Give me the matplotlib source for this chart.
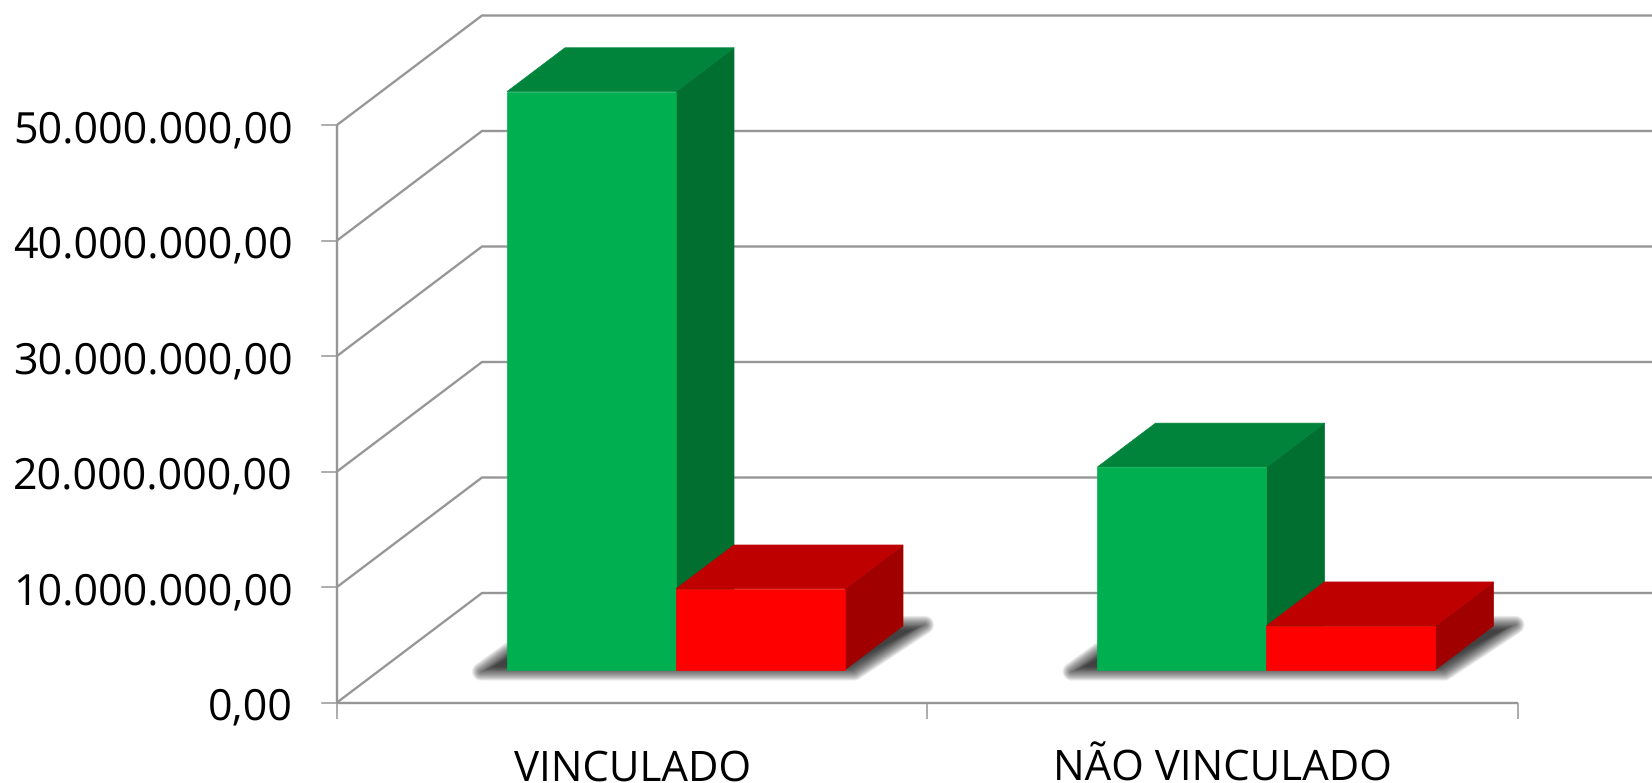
import numpy as np
import matplotlib
matplotlib.use("Agg")
import matplotlib.pyplot as plt
from matplotlib.patches import Polygon

categories = ["VINCULADO", "NÃO VINCULADO"]
green_values = [50.05e6, 17.55e6]
red_values = [7.0e6, 3.8e6]
y_ticks = [0, 10e6, 20e6, 30e6, 40e6, 50e6]
y_tick_labels = ["0,00", "10.000.000,00", "20.000.000,00", "30.000.000,00", "40.000.000,00", "50.000.000,00"]

W, H = 1652, 783
PX_X = 590.5           # pixels per category
PX_Y = 115.5 / 10e6    # pixels per value unit
X0, Y0 = 337, 702.5    # pixel position of the chart origin
DEPTH_PX = (145, 109.5)  # wall depth in pixels
BAR_W = 169 / PX_X
BAR_OFF = 126.5 / PX_X
D_FRONT, D_BACK = 0.30, 0.70
GREY = "#969696"

plt.rcParams["font.family"] = ["Open Sans", "Noto Sans", "DejaVu Sans"]
plt.rcParams["text.hinting"] = "no_hinting"
plt.rcParams["text.hinting_factor"] = 1
fig = plt.figure(figsize=(W / 100, H / 100), dpi=100)
ax = fig.add_axes([0, 0, 1, 1])
ax.set_xlim(-X0 / PX_X, (W - X0) / PX_X)
ax.set_ylim(-(H - Y0) / PX_Y, Y0 / PX_Y)
ax.axis("off")
DX = DEPTH_PX[0] / PX_X
DY = DEPTH_PX[1] / PX_Y


def P(x, v, d=0.0, ox=0.0, oy=0.0):
    """Project category x, value v, depth d (with a pixel offset) to data."""
    return (x + d * DX + ox / PX_X, v + d * DY + oy / PX_Y)


def face(points, color, z):
    ax.add_patch(Polygon(points, closed=True, facecolor=color, edgecolor=color,
                         lw=0.5, zorder=z, joinstyle="miter"))


def offset_round(corners, e):
    """Grow a convex counter-clockwise outline by e pixels, rounding its corners."""
    c = np.array([(x * PX_X, y * PX_Y) for x, y in corners])
    n = len(c)
    out = []
    for j in range(n):
        prev_edge = c[j] - c[j - 1]
        next_edge = c[(j + 1) % n] - c[j]
        a0 = np.arctan2(prev_edge[1], prev_edge[0]) - np.pi / 2
        a1 = np.arctan2(next_edge[1], next_edge[0]) - np.pi / 2
        if a1 < a0:
            a1 += 2 * np.pi
        for a in np.linspace(a0, a1, 8):
            out.append(c[j] + e * np.array([np.cos(a), np.sin(a)]))
    out = np.array(out)
    return np.column_stack([out[:, 0] / PX_X, out[:, 1] / PX_Y])


# walls, grid and axes
xr = ax.get_xlim()[1]
for v, lab in zip(y_ticks, y_tick_labels):
    a, b = P(0, v), P(0, v, 1)
    ax.plot([a[0], b[0], xr], [a[1], b[1], b[1]], color=GREY, lw=1.7, zorder=1,
            solid_joinstyle="miter", solid_capstyle="butt")
    t = P(0, v, 0, -15)
    ax.plot([t[0], a[0]], [a[1], a[1]], color=GREY, lw=1.1, zorder=1)
    ax.text(*P(0, v, 0, -44, -17), lab, ha="right", va="baseline",
            fontsize=30.9, color="black")
ax.plot([0, 0], [0, y_ticks[-1]], color=GREY, lw=1.7, zorder=1, solid_capstyle="butt")
ax.plot([0, len(categories)], [0, 0], color=GREY, lw=1.7, zorder=1, solid_capstyle="butt")
for i in range(len(categories) + 1):
    ax.plot([i, i], [0, -16 / PX_Y], color=GREY, lw=1.1, zorder=1, solid_capstyle="butt")
for i, c in enumerate(categories):
    ax.text(i + 0.5, -78 / PX_Y, c, ha="center", va="baseline", fontsize=30, color="black")

# soft floor shadows
layers = 19
for i in range(len(categories)):
    xl = i + BAR_OFF
    xr2 = xl + 2 * BAR_W
    core = [P(xl, 0, D_FRONT, -26, -2),
            P(xr2, 0, D_FRONT, 9, -2),
            P(xr2, 0, D_BACK, 22, 1),
            P(xl, 0, D_BACK, -19, 1)]
    for k in range(layers):
        e = 9 - k
        if e >= 0:
            pts = offset_round(core, e)
        else:
            cx = sum(p[0] for p in core) / 4
            cy = sum(p[1] for p in core) / 4
            pts = [(cx + (p[0] - cx) * (1 + e / 150), cy + (p[1] - cy) * (1 + e / 40)) for p in core]
        ax.add_patch(Polygon(pts, closed=True, facecolor="#222222", edgecolor="none",
                             alpha=0.09, zorder=2))


def bar(x, value, front, top, side, z):
    x2 = x + BAR_W
    face([P(x2, 0, D_FRONT), P(x2, 0, D_BACK), P(x2, value, D_BACK), P(x2, value, D_FRONT)], side, z)
    face([P(x, value, D_FRONT), P(x2, value, D_FRONT), P(x2, value, D_BACK), P(x, value, D_BACK)], top, z)
    face([P(x, 0, D_FRONT), P(x2, 0, D_FRONT), P(x2, value, D_FRONT), P(x, value, D_FRONT)], front, z + 0.1)


for i in range(len(categories)):
    xg = i + BAR_OFF
    bar(xg, green_values[i], "#00B050", "#00843C", "#006F2F", 3 + i)
    bar(xg + BAR_W, red_values[i], "#FF0000", "#BF0000", "#A00000", 3.5 + i)

fig.savefig("out.png", dpi=100, facecolor="white")
